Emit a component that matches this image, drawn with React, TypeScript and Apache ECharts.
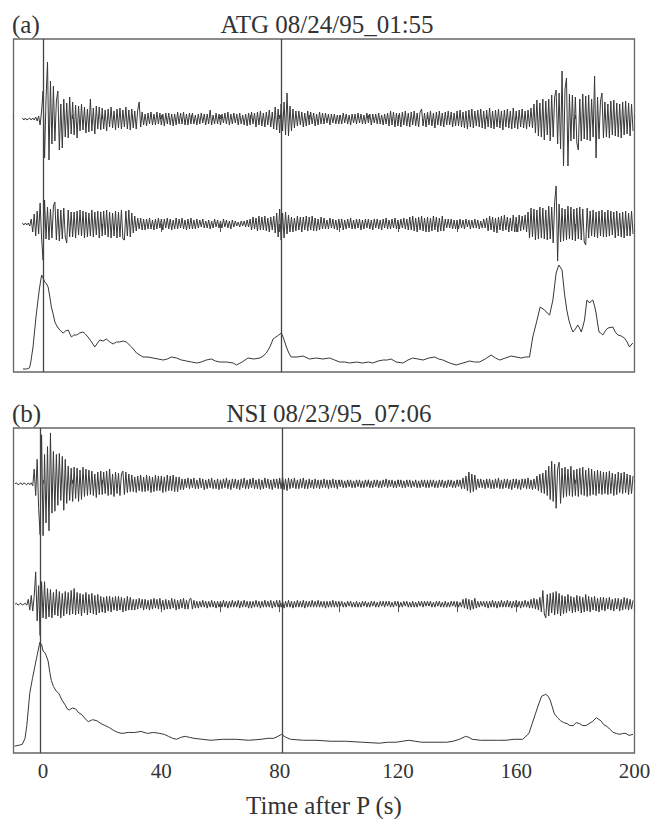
import React, { useEffect, useRef } from 'react';
import * as echarts from 'echarts';

// ---------- data ----------
const DT = 0.5; // sample step (s)
const ATG_T0 = -7; // first sample time for ATG traces
const NSI_T0 = -9.5; // first sample time for NSI traces

// ATG upper trace (amplitude, arbitrary units)
const atgTop = [
  1,-1,1,-1,0,1,-1,1,-1,2,-2,3,-6,8,
  28,-39,20,57,-41,38,-25,33,-22,18,28,-31,15,-29,20,-18,16,-19,22,-15,
  17,-16,14,-19,13,-12,15,-11,12,-14,10,-13,20,-12,11,-15,13,-10,12,-11,
  11,-10,9,-12,10,-8,12,-9,8,-11,10,-9,11,-10,9,-8,12,-10,9,-11,
  10,-9,8,-10,9,17,-8,7,-6,5,-7,6,-5,7,-6,5,-6,7,-5,6,
  -6,5,-7,6,-5,6,-6,5,-7,5,-6,7,-5,6,-5,7,-6,5,-6,6,
  -5,6,-5,4,-6,5,-5,6,-4,5,-6,5,-5,9,-6,4,-5,6,-5,5,
  -6,5,-4,6,-5,7,-6,5,-5,6,-4,5,-6,6,-5,4,-6,5,-7,6,
  -6,7,-5,6,-8,7,-6,8,-7,6,-8,7,-6,9,-8,7,-10,12,-11,10,
  -14,15,-12,17,-16,26,-17,13,-12,10,-9,8,-7,8,-6,7,-8,6,-7,8,
  -6,7,-5,6,-7,5,-6,7,-5,6,-5,6,-4,5,-6,5,-4,5,-5,4,
  -5,4,-5,6,-4,5,-5,4,-6,5,-4,5,-5,6,-4,5,-5,4,-5,6,
  -4,5,-6,5,-4,5,-5,6,-5,4,-6,5,-5,6,-7,8,-6,7,-8,6,
  -7,6,-8,7,-6,8,-7,6,-8,7,-6,8,-7,6,-8,7,10,-7,6,-8,
  7,-6,8,-7,6,-9,7,-6,8,-7,6,-8,7,-6,8,-6,7,-8,6,-7,
  8,-7,9,-8,7,-9,8,-10,9,-8,10,-9,8,-7,9,-8,10,-9,8,-10,
  9,-8,11,-9,8,-10,9,-8,10,-9,8,-11,9,-8,10,-9,8,-10,11,-9,
  8,-10,9,-8,10,-9,8,-10,9,-8,11,-9,15,-14,19,-17,16,-18,20,-21,
  18,-16,20,-22,24,-18,22,29,-25,26,-30,48,-47,30,41,-47,25,-22,24,-20,
  22,-24,-31,20,-22,25,-20,23,-21,24,-22,20,-18,43,-39,22,-20,18,26,-19,
  17,-18,15,-19,18,-16,19,-17,16,-18,15,-19,17,-16,18,-15,16,-17,15,-12,
];

// ATG middle trace
const atgMid = [
  1,-1,1,-1,1,-2,5,-8,10,-12,13,-10,21,-14,
  -36,24,-15,17,-16,15,-14,18,22,-16,15,-17,14,-15,16,-13,-19,14,-13,12,
  -13,12,-14,13,-11,14,-12,13,-14,12,-13,11,-12,14,-13,12,-11,13,-14,12,
  -12,13,-11,14,-13,12,-14,11,-12,13,-14,12,-13,14,-15,-16,13,-12,14,-13,
  11,-9,8,-7,6,-5,6,-6,5,-6,5,-5,6,-5,4,-6,5,-5,6,-4,
  5,-6,5,-4,6,-5,5,-6,4,-5,6,-5,5,-4,6,-5,4,-6,5,-5,
  6,-5,4,-5,5,-4,4,-3,5,-4,3,-4,4,-5,3,-4,5,-3,4,-4,
  3,-4,5,-3,4,-4,3,-5,4,-3,3,-2,2,-3,3,-2,3,-3,4,-3,
  5,-6,7,-5,6,-7,8,-6,7,-6,8,-7,6,-8,7,-6,8,-9,11,-13,
  15,-16,11,-14,12,-10,9,-8,7,-8,6,-7,8,-6,7,-8,7,-6,8,-7,
  7,-6,8,-7,6,-7,5,-6,7,-5,6,-5,4,-5,6,-4,5,-5,4,-6,
  5,-4,5,-6,4,-5,5,-4,6,-5,4,-5,5,-4,5,-6,4,-5,5,-4,
  5,-5,4,-6,5,-4,5,-5,4,-6,5,-4,6,-5,4,-5,5,-4,6,-5,
  4,-5,5,-4,6,-5,5,-6,7,-6,8,-7,6,-8,7,-6,8,-7,6,-8,
  7,-8,6,-7,8,-6,7,-8,6,-7,8,-7,5,-4,5,-4,5,-5,4,-5,
  4,-5,5,-4,4,-5,5,-3,4,-5,4,-4,5,-4,4,-5,3,-4,5,-4,
  6,-7,8,-6,7,-8,6,-9,7,-6,8,-7,9,-6,7,-8,6,-7,9,-8,
  7,-8,9,-7,8,-6,9,-8,12,-14,16,-13,15,-16,14,-15,17,-14,16,-15,
  14,-16,18,-15,17,-19,22,38,-37,20,-18,16,-17,15,-16,18,-15,17,-16,15,
  -17,16,-15,17,-16,15,-18,-21,16,-14,13,-12,14,-13,12,-14,13,-12,14,-13,
  12,-13,14,-12,13,-11,12,-14,13,-12,11,-13,12,-14,13,-12,11,-12,13,-10,
];

// ATG envelope [time s, level]
const atgEnv = [
  [-6.8,3],[-5.5,3],[-4.6,4],[-4.2,9],[-3.4,25],[-2.4,55],[-1.3,82],[-0.5,97],[0,94],[0.6,90],
  [1.2,88],[1.7,85],[2.3,75],[2.8,65],[3.4,58],[4.0,50],[4.5,47],[5.1,44],[6.0,41],[6.8,39],
  [7.6,41],[8.5,42],[9.1,38],[9.6,35],[10.4,37],[11.3,37],[12.4,39],[13.5,40],[14.3,38],[15.2,35],
  [16.4,30],[17.5,25],[18.4,29],[19.2,32],[20.3,31],[21.4,33],[22.6,30],[23.7,28],[24.8,30],[25.9,30],
  [27.1,31],[28.2,30],[29.9,25],[30.8,22],[31.6,19],[32.7,17],[33.8,15],[35.5,15],[37.2,14],[38.9,13],
  [40.6,12],[42,13],[43.4,15],[45.1,14],[46.8,12],[48.5,11],[50.2,10],[51.9,9],[53.5,10],[55.2,12],
  [56.9,13],[58.3,11],[59.7,10],[62,10],[64.3,9],[65.4,7],[67.3,10],[69.3,14],[71.3,13],[73.3,14],
  [74.4,16],[75.5,19],[76.7,25],[77.8,33],[79.2,36],[80.6,39],[81.4,33],[82.3,25],[83.1,19],[83.9,15],
  [85.9,15],[87.9,16],[90.1,13],[92.4,14],[94.6,13],[96.9,14],[98.6,12],[100.3,10],[102,10],[103.7,9],
  [106,10],[108,9],[110,10],[111.5,9],[113.3,11],[115,12],[116.4,12],[117.7,13],[119.4,10],[121.7,9],
  [123.4,12],[125,14],[126.8,13],[128.5,12],[130.5,14],[132.4,15],[133.8,13],[135.2,12],[137.5,9],[139.7,7],
  [142,9],[144.2,11],[145.9,10],[147.6,10],[149.5,13],[151.5,17],[153,14],[154.4,12],[156.4,14],[158.3,16],
  [160,15],[161.7,14],[163.1,15],[164.5,15],[165.6,35],[166.8,49],[168.1,65],[169.6,62],[170.5,59],[171.3,57],
  [172.4,72],[173.5,99],[174.4,107],[175.5,102],[176.3,79],[177.1,62],[177.8,52],[178.5,45],[179.2,40],[180,43],
  [180.8,47],[181.4,44],[182,40],[182.6,46],[183.1,52],[183.9,72],[184.8,69],[185.4,71],[185.9,72],[186.5,66],
  [187,59],[187.5,49],[188,40],[188.6,39],[189.3,37],[190.1,41],[191,44],[192.7,45],[193.5,40],[194.4,37],
  [195.5,36],[196.6,34],[197.5,30],[198.3,25],[199.4,29],
];

// NSI upper trace
const nsiTop = [
  0,1,-1,0,1,-1,1,0,-1,1,-1,1,-2,15,-12,25,-25,-52,50,
  -53,30,-40,38,-48,52,-30,33,-28,30,-22,31,-17,28,-27,25,-20,18,-17,16,
  -18,17,-15,16,-18,14,-16,17,-13,15,-12,14,-11,13,-12,10,-14,12,-11,13,
  -11,12,-10,13,-12,15,-11,10,-13,12,-10,11,-12,10,13,-11,12,-9,10,-8,
  9,-8,7,-9,8,-7,9,-8,7,-8,9,-7,8,-9,7,-8,9,-7,8,-7,
  8,-9,7,-8,9,-7,8,-7,9,-8,7,-8,7,-6,5,-6,5,-4,6,-5,
  5,-4,6,-5,4,-5,6,-4,5,-6,4,-5,5,-4,6,-5,4,-5,5,-6,
  4,-5,5,-4,6,-5,4,-6,5,-4,5,-5,4,-6,5,-4,6,-5,4,-5,
  5,-4,6,-5,4,-5,5,-6,4,-5,6,-4,5,-5,4,-6,5,-4,5,-5,
  6,-5,7,-6,5,-7,6,-5,5,-4,6,-5,4,-5,5,-4,6,-5,4,-5,
  5,-4,4,-5,5,-4,4,-5,4,-4,5,-4,4,-5,4,-4,5,-4,4,-5,
  4,-3,4,-4,3,-4,4,-3,4,-4,3,-4,4,-3,4,-4,3,-4,4,-3,
  4,-4,3,-4,4,-3,4,-4,3,-4,4,-3,5,-4,4,-3,4,-4,3,-4,
  4,-3,4,-4,3,-4,4,-3,4,-4,3,-3,4,-4,3,-4,4,-3,4,-4,
  3,-4,4,-3,4,-4,3,-4,4,-3,4,-4,3,-4,4,-3,4,-4,3,-4,
  4,-3,4,-5,6,-5,8,-7,12,-9,10,-8,9,-6,5,-4,5,-4,4,-5,
  5,-4,5,-5,4,-5,5,-4,6,-5,4,-5,5,-4,5,-5,4,-6,5,-4,
  5,-5,4,-6,5,-4,5,-5,6,-5,4,-6,5,-5,8,-7,10,-9,11,-10,
  14,-12,18,-16,23,-18,20,-25,15,22,-20,16,-14,17,-13,15,-12,18,-13,14,
  -12,15,-13,16,-11,17,-12,14,-13,16,-12,15,-11,13,-12,14,-10,13,-11,12,
  -10,12,-11,13,-10,11,-12,10,-11,12,-9,11,-10,12,-9,10,-11,9,-10,8,
];

// NSI middle trace
const nsiMid = [
  0,1,-1,0,1,-1,0,1,-1,5,-6,9,-7,8,33,-17,19,-32,23,
  -14,23,-15,16,-13,15,-14,12,-11,15,-12,13,-14,11,-12,13,-10,12,-11,14,
  -10,16,-11,12,-10,11,-12,10,-9,12,-11,10,-9,11,-10,9,-11,10,-9,8,
  -8,7,-9,8,-7,8,-8,7,-6,8,-7,8,-6,7,-8,6,-7,8,-6,7,
  -6,5,-6,5,-5,6,-4,5,-6,5,-5,4,-6,5,-5,6,-4,5,-5,6,
  -5,4,-6,5,-5,4,-5,6,-4,5,-6,4,-5,5,-4,6,-5,4,-5,5,
  6,-5,4,-4,3,-4,3,-3,4,-3,3,-4,3,-3,4,-3,3,-4,3,-3,
  3,-3,4,-3,3,-4,3,-3,4,-3,3,-3,4,-4,3,-3,4,-3,3,-4,
  3,-4,3,-3,4,-3,3,-4,3,-3,4,-3,3,-3,4,-4,3,-3,4,-3,
  4,-3,3,-4,3,-3,4,-3,3,-4,3,-3,4,-3,3,-3,4,-4,3,-3,
  3,-3,4,-3,3,-3,4,-3,3,-3,3,-4,3,-3,3,-3,4,-3,3,-3,
  3,-2,3,-3,2,-3,3,-2,3,-3,2,-3,3,-3,2,-3,3,-2,3,-3,
  2,-3,3,-2,3,-3,2,-3,3,-2,3,-3,3,-2,3,-3,2,-3,3,-2,
  3,-3,2,-3,3,-2,3,-3,2,-3,3,-3,2,-3,3,-2,3,-3,3,-2,
  3,-2,3,-3,2,-3,3,-2,3,-3,2,-3,3,-3,2,-3,3,-2,3,-3,
  3,-3,2,-3,5,-4,6,-5,5,-6,4,-5,6,-4,3,-3,3,-2,3,-3,
  3,-4,3,-3,4,-3,3,-4,3,-3,4,-3,3,-3,4,-3,3,-4,3,-3,
  4,-3,3,-4,3,-3,4,-3,3,-4,5,-4,6,-5,5,-6,7,-8,14,-10,
  -14,10,-12,11,-9,12,-11,13,-10,11,-12,9,-10,8,-9,10,-7,8,-9,7,
  -8,9,-7,8,-9,7,-8,10,-7,8,-8,7,-6,8,-7,6,-8,7,-6,7,
  -7,6,-5,7,-6,5,-7,6,-5,6,-7,5,-6,7,-5,6,-6,5,-5,4,
];

// NSI envelope [time s, level]
const nsiEnv = [
  [-9.7,7],[-8,8],[-7,9],[-6.1,15],[-5.5,28],[-4.5,61],[-3.6,76],[-2.8,88],[-2,100],[-1.1,113],
  [-0.5,111],[0,104],[0.5,103],[1,100],[1.7,94],[2.3,82],[2.8,74],[3.5,68],[4.5,63],[5.3,61],
  [6.4,54],[7.5,49],[8.2,45],[8.9,44],[9.9,46],[11,45],[12.1,41],[13.2,39],[14.2,35],[15.3,32],
  [16.7,34],[18.2,33],[19.6,30],[21,28],[22.4,26],[23.9,23],[25.3,21],[26.7,20],[28.8,21],[31,21],
  [33.1,22],[35.3,20],[37.4,21],[39.5,20],[41,19],[42.4,17],[43.8,15],[45.2,14],[46.6,16],[48.1,17],
  [49.5,16],[51,15],[53.8,14],[56.7,13],[60.9,14],[65.2,14],[69.5,13],[73.8,14],[76,15],[78,15],
  [79.4,17],[80.6,19],[82.1,16],[83.7,14],[88,13],[92.3,13],[97.3,12],[102.3,12],[108,11],[113.7,10],
  [116.5,11],[119.4,11],[121.5,12],[123.7,13],[125.8,12],[128,11],[132.2,11],[136.5,11],[138.6,12],[140.8,14],
  [142.9,17],[144,16],[145.1,14],[148,13],[150.8,13],[153.6,13],[156.5,13],[159.3,14],[162.2,14],[164.3,20],
  [165.4,30],[166.5,40],[167.6,50],[168.6,58],[170,60],[170.8,58],[171.5,54],[172.2,47],[172.9,40],[174,36],
  [175,33],[176.1,31],[177.2,30],[178.2,28],[179.3,28],[180.3,31],[181.4,30],[182.5,28],[183.6,28],[184.6,30],
  [185.7,32],[187.1,36],[188.6,33],[189.6,29],[190.7,27],[191.8,24],[192.8,21],[193.9,20],[195,19],[196,20],
  [197.1,20],[198.1,18],[199.5,19],
];

const X_LABELS = [0, 40, 80, 120, 160, 200];
const MAJOR_TICKS = [0, 20, 40, 60, 80, 100, 120, 140, 160, 180, 200];
const MARKERS_ATG = [0, 80.5];
const MARKERS_NSI = [-1, 81];
const TITLE_A = 'ATG 08/24/95_01:55';
const TITLE_B = 'NSI 08/23/95_07:06';
const X_NAME = 'Time after P (s)';

// ---------- chart ----------
const FONT = '"Liberation Serif", "Times New Roman", serif';
const TEXT_COLOR = '#333';
const TRACE_COLOR = '#383838';

const toSeries = (arr: number[], t0: number) => arr.map((v, i) => [t0 + i * DT, v]);

function xAxes(gridIndex: number, withLabels: boolean) {
  const base = {
    type: 'value',
    gridIndex,
    min: -10,
    max: 200,
    interval: 10,
    axisLine: { show: false },
    splitLine: { show: false },
  };
  return [
    {
      ...base,
      axisTick: { show: true, inside: true, length: 4, lineStyle: { color: '#555', width: 1 } },
      axisLabel: withLabels
        ? {
            show: true,
            formatter: (v: number) => (X_LABELS.indexOf(v) >= 0 ? String(v) : ''),
            fontFamily: FONT,
            fontSize: 21,
            color: TEXT_COLOR,
            margin: 7,
          }
        : { show: false },
      name: withLabels ? X_NAME : '',
      nameLocation: 'middle',
      nameGap: 40,
      nameTextStyle: { fontFamily: FONT, fontSize: 25, color: TEXT_COLOR },
    },
    {
      ...base,
      axisTick: {
        show: true,
        inside: true,
        length: 8,
        customValues: MAJOR_TICKS,
        lineStyle: { color: '#555', width: 1 },
      },
      axisLabel: { show: false },
    },
  ];
}

function yAxis(gridIndex: number, min: number, max: number) {
  return {
    type: 'value',
    gridIndex,
    min,
    max,
    show: false,
    splitLine: { show: false },
  };
}

function traceSeries(data: number[][], xAxisIndex: number, yAxisIndex: number, markers?: number[]) {
  const s: any = {
    type: 'line',
    xAxisIndex,
    yAxisIndex,
    data,
    showSymbol: false,
    symbol: 'none',
    lineStyle: { color: TRACE_COLOR, width: 1 },
    silent: true,
  };
  if (markers) {
    s.markLine = {
      silent: true,
      symbol: ['none', 'none'],
      label: { show: false },
      lineStyle: { color: '#444', width: 1.3, type: 'solid' },
      data: markers.map((m) => ({ xAxis: m })),
    };
  }
  return s;
}

export default function App() {
  const ref = useRef<HTMLDivElement>(null);
  useEffect(() => {
    if (!ref.current) return;
    const chart = echarts.init(ref.current, undefined, { renderer: 'svg' });
    const gridLeft = 13.5;
    const gridRight = 665 - 634.5;
    chart.setOption({
      animation: false,
      backgroundColor: '#fff',
      grid: [
        { left: gridLeft, right: gridRight, top: 39, height: 333, show: true, borderColor: '#666', borderWidth: 1.3, backgroundColor: 'transparent' },
        { left: gridLeft, right: gridRight, top: 428, height: 332, show: true, borderColor: '#666', borderWidth: 1.3, backgroundColor: 'transparent' },
      ],
      xAxis: [...xAxes(0, false), ...xAxes(1, true)],
      yAxis: [
        yAxis(0, -253, 80),
        yAxis(0, -148, 185),
        yAxis(0, 0, 333),
        yAxis(1, -275, 57),
        yAxis(1, -152, 180),
        yAxis(1, 0, 332),
      ],
      series: [
        traceSeries(toSeries(atgTop, ATG_T0), 0, 0),
        traceSeries(toSeries(atgMid, ATG_T0), 0, 1),
        traceSeries(atgEnv, 0, 2, MARKERS_ATG),
        traceSeries(toSeries(nsiTop, NSI_T0), 2, 3),
        traceSeries(toSeries(nsiMid, NSI_T0), 2, 4),
        traceSeries(nsiEnv, 2, 5, MARKERS_NSI),
      ],
      graphic: [
        { type: 'text', x: 12, y: 24, style: { text: '(a)', font: `25px ${FONT}`, fill: TEXT_COLOR, textAlign: 'left', textVerticalAlign: 'middle' } },
        { type: 'text', x: 327, y: 24, style: { text: TITLE_A, font: `25px ${FONT}`, fill: TEXT_COLOR, textAlign: 'center', textVerticalAlign: 'middle' } },
        { type: 'text', x: 12, y: 413, style: { text: '(b)', font: `25px ${FONT}`, fill: TEXT_COLOR, textAlign: 'left', textVerticalAlign: 'middle' } },
        { type: 'text', x: 329, y: 413, style: { text: TITLE_B, font: `25px ${FONT}`, fill: TEXT_COLOR, textAlign: 'center', textVerticalAlign: 'middle' } },
      ],
    });
    return () => chart.dispose();
  }, []);
  return (
    <div
      ref={ref}
      style={{ position: 'absolute', left: 0, top: 0, width: 665, height: 819, background: '#fff' }}
    />
  );
}
